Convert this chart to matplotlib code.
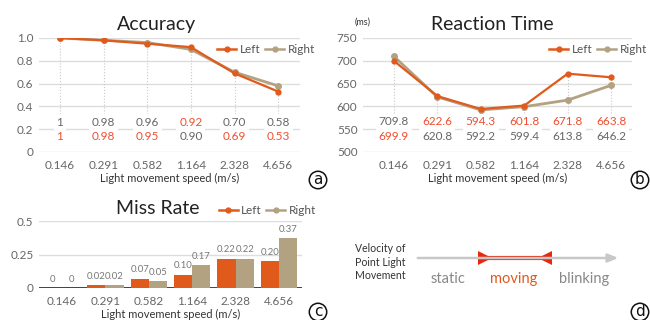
import matplotlib
matplotlib.use("Agg")
import matplotlib.pyplot as plt

plt.rcParams['font.family'] = ['Lato', 'DejaVu Sans']

speeds = ["0.146", "0.291", "0.582", "1.164", "2.328", "4.656"]
acc_left = [1.00, 0.98, 0.95, 0.92, 0.69, 0.53]
acc_right = [1.00, 0.98, 0.96, 0.90, 0.70, 0.58]
acc_left_lbl = ["1", "0.98", "0.95", "0.92", "0.69", "0.53"]
acc_right_lbl = ["1", "0.98", "0.96", "0.90", "0.70", "0.58"]
rt_left = [699.9, 622.6, 594.3, 601.8, 671.8, 663.8]
rt_right = [709.8, 620.8, 592.2, 599.4, 613.8, 646.2]
miss_left = [0.00, 0.02, 0.07, 0.10, 0.22, 0.20]
miss_right = [0.00, 0.02, 0.05, 0.17, 0.22, 0.37]
miss_left_lbl = ["0", "0.02", "0.07", "0.10", "0.22", "0.20"]
miss_right_lbl = ["0", "0.02", "0.05", "0.17", "0.22", "0.37"]

C_LEFT = "#E05A1C"
C_RIGHT = "#B3A282"
C_RED_TXT = "#F04E2E"
C_GRAY_TXT = "#666666"
C_GRID = "#DDDDDD"
TICK_FS = 8.5

fig = plt.figure(figsize=(6.5, 3.2), dpi=100)
W, H = 650, 320


def px_axes(x0, y0, x1, y1):
    return fig.add_axes([x0 / W, 1 - y1 / H, (x1 - x0) / W, (y1 - y0) / H])


def style_axes(ax, yticks, ylabels, ylim, xlim, base_dark=False, xpad=6):
    ax.set_ylim(*ylim)
    ax.set_xlim(*xlim)
    ax.set_yticks(yticks)
    ax.set_yticklabels(ylabels)
    ax.set_xticks(range(len(speeds)))
    ax.set_xticklabels(speeds)
    for s in ax.spines.values():
        s.set_visible(False)
    ax.tick_params(length=0, labelsize=TICK_FS, colors=C_GRAY_TXT, pad=4)
    ax.tick_params(axis='x', pad=xpad)
    for t in yticks:
        dark = base_dark and t == yticks[0]
        ax.axhline(t, color="#222222" if dark else C_GRID, lw=1.2 if dark else 1.0, zorder=0)
    ax.set_xlabel("Light movement speed (m/s)", fontsize=8, color="#333333", labelpad=1)


def add_legend(ax, loc, anchor):
    h1, = ax.plot([], [], color=C_LEFT, lw=1.8, marker='o', ms=3.5)
    h2, = ax.plot([], [], color=C_RIGHT, lw=1.8, marker='o', ms=3.5)
    leg = ax.legend([h1, h2], ["Left", "Right"], ncol=2, frameon=False, fontsize=8.5,
                    loc=loc, bbox_to_anchor=anchor, handlelength=1.6, handletextpad=0.3,
                    columnspacing=0.4, borderaxespad=0)
    for t in leg.get_texts():
        t.set_color("#555555")


def circ_label(x, y, s):
    fig.text(x / W, 1 - y / H, s, fontsize=11, ha='center', va='center', color='#111111',
             family='DejaVu Sans',
             bbox=dict(boxstyle='circle,pad=0.08', fc='white', ec='#111111', lw=1.1))

x = list(range(len(speeds)))

# ---------------- Panel a: Accuracy ----------------
ax = px_axes(39, 38, 300, 152)
style_axes(ax, [0, 0.2, 0.4, 0.6, 0.8, 1.0], ["0", "0.2", "0.4", "0.6", "0.8", "1.0"],
           (0, 1.0), (-0.48, 5.5))
ax.set_title("Accuracy", fontsize=14, color="#222222", pad=6, x=0.45)
for i in x:
    ax.plot([i, i], [0.33, max(acc_left[i], acc_right[i])], ls=':', color='#C8C8C8', lw=0.8, zorder=1)
ax.plot(x, acc_right, color=C_RIGHT, lw=2.0, marker='o', ms=4, zorder=3)
ax.plot(x, acc_left, color=C_LEFT, lw=1.6, marker='o', ms=3.5, zorder=3)
for i in x:
    if acc_left[i] > acc_right[i]:
        top, tc, bot, bc = acc_left_lbl[i], C_RED_TXT, acc_right_lbl[i], C_GRAY_TXT
    else:
        top, tc, bot, bc = acc_right_lbl[i], C_GRAY_TXT, acc_left_lbl[i], C_RED_TXT
    ax.text(i, 0.263, top, ha='center', va='center', fontsize=TICK_FS, color=tc, zorder=4,
            bbox=dict(boxstyle='square,pad=0.25', fc='white', ec='none'))
    ax.text(i, 0.14, bot, ha='center', va='center', fontsize=TICK_FS, color=bc, zorder=4,
            bbox=dict(boxstyle='square,pad=0.15', fc='white', ec='none'))
add_legend(ax, 'center left', (0.665, 0.90))
circ_label(318, 180, "a")

# ---------------- Panel b: Reaction Time ----------------
ax = px_axes(363, 38, 632, 152)
style_axes(ax, [500, 550, 600, 650, 700, 750], ["500", "550", "600", "650", "700", "750"],
           (500, 750), (-0.71, 5.48))
ax.set_title("Reaction Time", fontsize=14, color="#222222", pad=6, x=0.48)
for i in x:
    ax.plot([i, i], [585, max(rt_left[i], rt_right[i])], ls=':', color='#C8C8C8', lw=0.8, zorder=1)
ax.plot(x, rt_right, color=C_RIGHT, lw=2.0, marker='o', ms=4, zorder=3)
ax.plot(x, rt_left, color=C_LEFT, lw=1.6, marker='o', ms=3.5, zorder=3)
for i in x:
    if rt_left[i] > rt_right[i]:
        top, tc, bot, bc = rt_left[i], C_RED_TXT, rt_right[i], C_GRAY_TXT
    else:
        top, tc, bot, bc = rt_right[i], C_GRAY_TXT, rt_left[i], C_RED_TXT
    ax.text(i, 565.8, f"{top:.1f}", ha='center', va='center', fontsize=TICK_FS, color=tc, zorder=4,
            bbox=dict(boxstyle='square,pad=0.25', fc='white', ec='none'))
    ax.text(i, 535, f"{bot:.1f}", ha='center', va='center', fontsize=TICK_FS, color=bc, zorder=4,
            bbox=dict(boxstyle='square,pad=0.15', fc='white', ec='none'))
ax.text(0.027, 1.14, "(ms)", transform=ax.transAxes, fontsize=6.5, color="#333333",
        ha='right', va='center')
add_legend(ax, 'center left', (0.675, 0.90))
circ_label(640, 180, "b")

# ---------------- Panel c: Miss Rate ----------------
ax = px_axes(39, 221, 302, 288)
style_axes(ax, [0, 0.25, 0.5], ["0", "0.25", "0.5"], (0, 0.5), (-0.53, 5.53),
           base_dark=True, xpad=6)
ax.xaxis.labelpad = 1
ax.set_title("Miss Rate", fontsize=14, color="#222222", pad=5, x=0.45)
bw = 0.42
bl = ax.bar([i - bw / 2 for i in x], miss_left, width=bw, color=C_LEFT, zorder=2)
br = ax.bar([i + bw / 2 for i in x], miss_right, width=bw, color=C_RIGHT, zorder=2)
for rect, lbl in zip(list(bl) + list(br), miss_left_lbl + miss_right_lbl):
    ax.annotate(lbl, (rect.get_x() + rect.get_width() / 2, rect.get_height()),
                xytext=(0, 3), textcoords='offset points', ha='center', va='bottom',
                fontsize=6.8, color="#777777")
add_legend(ax, 'center left', (0.665, 1.15))
circ_label(318, 312, "c")

# ---------------- Panel d: diagram ----------------
axd = px_axes(330, 200, 650, 320)
axd.set_xlim(330, 650)
axd.set_ylim(320, 200)
axd.axis('off')
axd.text(355, 262, "Velocity of\nPoint Light\nMovement", fontsize=7.6, color="#333333",
         ha='left', va='center', linespacing=1.3)
axd.annotate("", xy=(621, 258), xytext=(415, 258),
             arrowprops=dict(arrowstyle='-|>,head_length=0.6,head_width=0.25', color='#C8C8C8', lw=1.8))
axd.plot([483, 546], [258, 258], color='#E8280E', lw=3, solid_capstyle='butt')
axd.plot([484.5], [258], marker='>', color='#E8280E', ms=10, mew=0)
axd.plot([544.5], [258], marker='<', color='#E8280E', ms=10, mew=0)
axd.text(448, 279, "static", fontsize=10.5, color="#888888", ha='center', va='center')
axd.text(514, 279, "moving", fontsize=10.5, color=C_LEFT, ha='center', va='center')
axd.text(584, 279, "blinking", fontsize=10.5, color="#888888", ha='center', va='center')
circ_label(640, 312, "d")

fig.savefig("out.png", dpi=100)
